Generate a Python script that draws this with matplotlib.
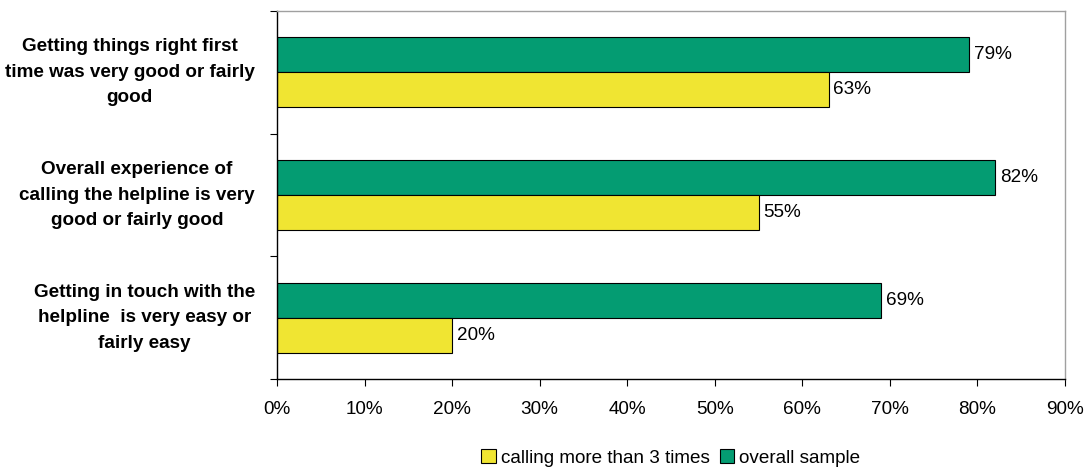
import matplotlib
matplotlib.use("Agg")
import matplotlib.pyplot as plt
import numpy as np

plt.rcParams['font.family'] = ['Liberation Sans', 'DejaVu Sans']

categories = [
    "Getting things right first\ntime was very good or fairly\ngood",
    "Overall experience of\ncalling the helpline is very\ngood or fairly good",
    "Getting in touch with the\nhelpline  is very easy or\nfairly easy",
]
overall_sample = [79, 82, 69]
calling_more_than_3 = [63, 55, 20]
series_names = ["calling more than 3 times", "overall sample"]
xticks = [0, 10, 20, 30, 40, 50, 60, 70, 80, 90]

green = "#049C72"
yellow = "#F0E532"
FS = 13.6

fig = plt.figure(figsize=(10.9, 4.68), dpi=100)
ax = fig.add_axes([277/1090, 89/468, (1065-277)/1090, (379-11)/468])

n = len(categories)
pos = np.arange(n)[::-1].astype(float)  # top category at highest y
h = 0.285
b1 = ax.barh(pos + h/2, overall_sample, height=h, color=green, edgecolor="black", linewidth=0.8, label=series_names[1])
b2 = ax.barh(pos - h/2, calling_more_than_3, height=h, color=yellow, edgecolor="black", linewidth=0.8, label=series_names[0])

for bars, vals in ((b1, overall_sample), (b2, calling_more_than_3)):
    for rect, v in zip(bars, vals):
        ax.annotate(f"{v}%", (rect.get_width(), rect.get_y() + rect.get_height()/2),
                    xytext=(3.5, 0), textcoords="offset points", va="center", ha="left",
                    fontsize=FS, color="black")

ax.set_xlim(0, 90)
ax.set_ylim(-0.5, n - 0.5)
ax.set_xticks(xticks)
ax.set_xticklabels([f"{t}%" for t in xticks], fontsize=FS)
ax.tick_params(axis="x", length=5, width=0.8, pad=10.5, colors="black")

ax.set_yticks(pos)
ax.set_yticklabels(categories, fontsize=FS, fontweight="bold", ha="right", va="center",
                   multialignment="center", linespacing=1.65)
ax.tick_params(axis="y", length=0, pad=16)
ax.set_yticks(np.arange(-0.5, n, 1.0), minor=True)
ax.tick_params(axis="y", which="minor", length=5, width=0.8)

for s in ("top", "right"):
    ax.spines[s].set_color("#A0A0A0")
    ax.spines[s].set_linewidth(1.0)
for s in ("left", "bottom"):
    ax.spines[s].set_color("black")
    ax.spines[s].set_linewidth(1.0)

handles = [b2, b1]
fig.legend(handles, series_names, loc="center", bbox_to_anchor=(671/1090, 1 - 458/468),
           ncol=2, frameon=False, fontsize=FS, handlelength=0.75, handleheight=0.75,
           handletextpad=0.3, columnspacing=0.5, borderpad=0.2)

fig.savefig("out.png", dpi=100)
